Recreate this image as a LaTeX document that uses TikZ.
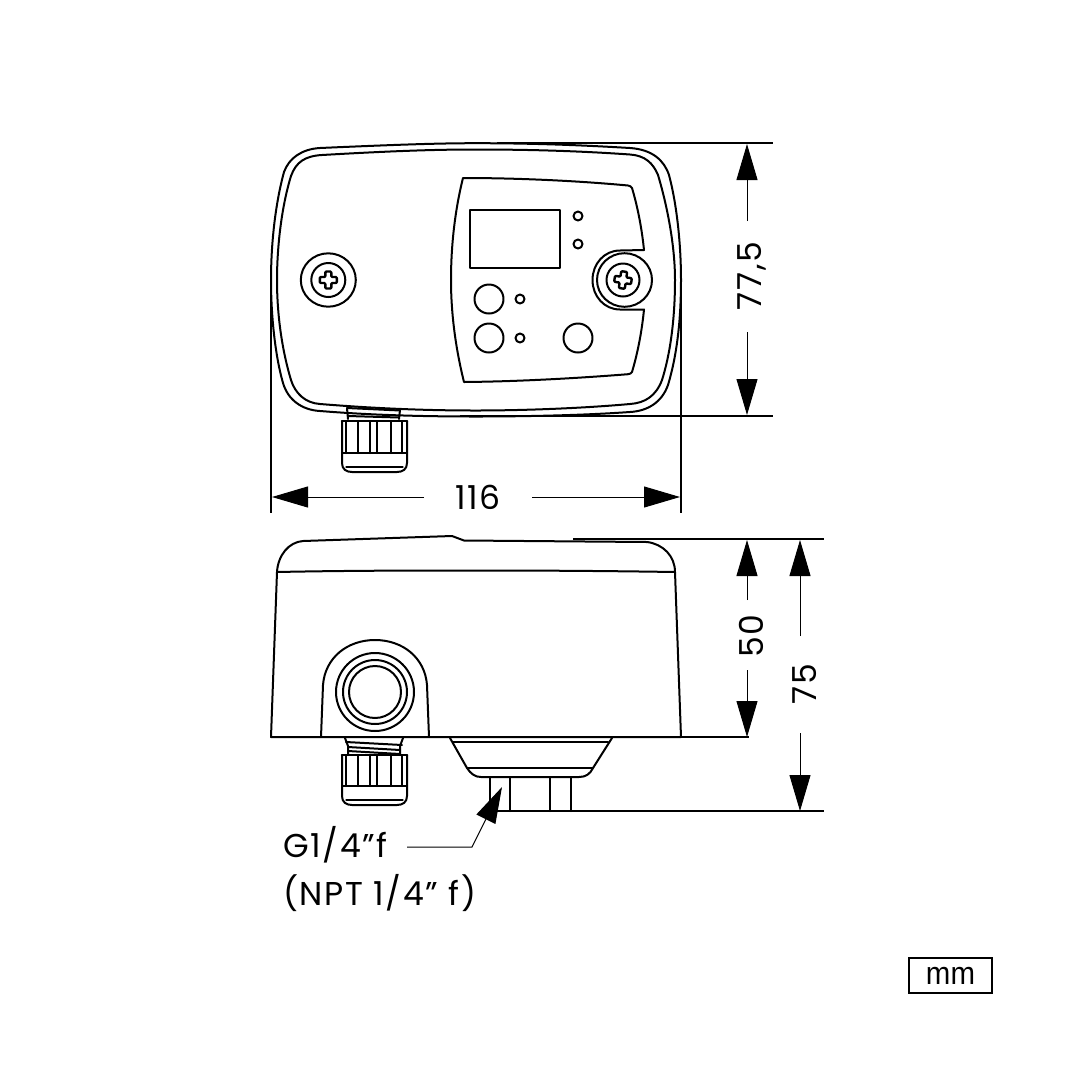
\documentclass[tikz,border=0pt]{standalone}
\usepackage{fontspec}
\setmainfont{Poppins}[LetterSpace=5]
\newfontfamily\unitfont{Liberation Sans}[FakeStretch=0.92]
\usetikzlibrary{arrows.meta}
\tikzset{
  body/.style={draw=black,line width=2pt,line join=round,line cap=round},
  ext/.style={draw=black,line width=2pt},
  dim/.style={draw=black,line width=1pt,-{Triangle[length=36pt,width=21pt,fill=black]}},
  lab/.style={font=\fontsize{33}{33}\selectfont,inner sep=0pt,text=black},
}
\newcommand{\crossmark}[3]{%
  \draw[body,line width=2.4pt,rounded corners=1pt,shift={(#1,#2)},rotate=#3]
   (-3,-8.5) -- (3,-8.5) -- (3,-3) -- (8.5,-3) -- (8.5,3) -- (3,3) -- (3,8.5)
   -- (-3,8.5) -- (-3,3) -- (-8.5,3) -- (-8.5,-3) -- (-3,-3) -- cycle;}
\newcommand{\glandbody}[2]{% top y, bottom y
  \draw[body] (342,#1) -- (342,#2-9) .. controls (342,#2-3) and (346,#2) .. (352,#2) -- (397,#2) .. controls (403,#2) and (407,#2-3) .. (407,#2-9) -- (407,#1);
  \draw[body,line width=2.6pt] (342,#1) -- (407,#1);
  \draw[body] (346,#1) -- (346,#2-19) (402,#1) -- (402,#2-19);
  \draw[body] (358,#1) -- (358,#2-19) (370,#1) -- (370,#2-19) (377,#1) -- (377,#2-19) (391,#1) -- (391,#2-19);
  \draw[body] (342,#2-19) -- (407,#2-19);
  \draw[body,line width=1.2pt] (346,#2-5) -- (403,#2-5);
}
\begin{document}
\begin{tikzpicture}[x=1pt,y=-1pt]
\useasboundingbox (0,0) rectangle (1080,1080);
% ---------- top view
\draw[body] (320,148) .. controls (400,144.5) and (440,143.2) .. (476,143.2) .. controls (530,143.2) and (580,145) .. (630,148)
  .. controls (652,149.5) and (664,160) .. (669,175) .. controls (677,205) and (681,245) .. (681,280)
  .. controls (681,320) and (677,355) .. (668,385) .. controls (662,402) and (648,411) .. (630,412)
  .. controls (580,415.5) and (520,416.5) .. (476,416.5) .. controls (420,416.5) and (370,415) .. (320,411)
  .. controls (302,410) and (288,400) .. (283,383) .. controls (275,355) and (271,315) .. (271,280)
  .. controls (271,245) and (275,205) .. (284,172) .. controls (289,158) and (302,149) .. (320,148) -- cycle;
\draw[body] (322,155) .. controls (400,150.5) and (440,149.5) .. (476,149.5) .. controls (530,149.5) and (580,151) .. (630,154.5)
  .. controls (645,155.5) and (653,163) .. (658,175) .. controls (667,205) and (675,245) .. (675,280)
  .. controls (675,320) and (670,355) .. (662,380) .. controls (656,396) and (645,403) .. (630,404)
  .. controls (580,408.5) and (520,410.5) .. (476,410.5) .. controls (420,410.5) and (370,408) .. (320,404)
  .. controls (305,403) and (295,393) .. (291,380) .. controls (282,350) and (277,315) .. (277,280)
  .. controls (277,245) and (282,205) .. (291,176) .. controls (296,162) and (305,156) .. (322,155) -- cycle;
% panel
\draw[body] (463,178) .. controls (520,178) and (580,181) .. (628,185.5) .. controls (630,185.7) and (631,186.5) .. (632,188)
  .. controls (638,208) and (642,230) .. (644,250) -- (620,250.5)
  .. controls (604,250.5) and (592.5,264) .. (592.5,280) .. controls (592.5,296) and (604,309.5) .. (620,309.5) -- (644,309.5)
  .. controls (642,330) and (638,352) .. (632,372) .. controls (631,373.5) and (630,374) .. (628,374.2)
  .. controls (580,378) and (520,381.5) .. (464,382)
  .. controls (456,350) and (451,315) .. (451,280) .. controls (451,245) and (455,210) .. (463,178) -- cycle;
\draw[body] (469.5,209.5) rectangle (560,268);
\draw[body] (578,216) circle[radius=4.5];
\draw[body] (578,244) circle[radius=4.5];
\draw[body] (520,299) circle[radius=4.5];
\draw[body] (520,338) circle[radius=4.5];
\draw[body] (489,299) circle[radius=14.5];
\draw[body] (489,338) circle[radius=14.5];
\draw[body] (578,338) circle[radius=14.5];
% screws
\draw[body] (328.3,280) ellipse[x radius=27.5,y radius=26.7];
\draw[body] (328.3,280) circle[radius=17];
\crossmark{328.3}{280}{0}
\draw[body] (624.5,280) ellipse[x radius=27.5,y radius=26.8];
\draw[body] (623,280) circle[radius=16.5];
\crossmark{623}{280}{-8}
% gland, top view
\draw[body] (347,408) -- (348,419) (400,410) -- (399,419);
\draw[body] (347,408) -- (400,410.5);
\draw[body] (348,416) -- (399,417.5);
\glandbody{421}{472}
% ---------- side view
\draw[body] (277,572) .. controls (278,555) and (289,542) .. (303,541) -- (452,536) -- (464,540.5) -- (647,542)
  .. controls (663,544) and (675,556) .. (675,572) -- (681,737) -- (271,737) -- cycle;
\draw[body] (277,572) .. controls (350,570.5) and (420,570.5) .. (476,570.5) .. controls (550,570.5) and (610,571) .. (675,572);
\draw[body] (321,737) -- (323,685) .. controls (325,658) and (347,640) .. (375,640) .. controls (403,640) and (425,658) .. (427,685) -- (429,737);
\draw[body] (375,692) circle[radius=39];
\draw[body] (375,692) circle[radius=32];
\draw[body] (375,692) circle[radius=26];
% gland, side view
\draw[body] (345,738) -- (348,746) -- (348,755) (403,738) -- (400,746) -- (400,755);
\draw[body] (346,742) -- (402,745) (348,747) -- (400,750) (348,751) -- (400,754);
\glandbody{755}{805}
% cup
\draw[body] (450,738) -- (467,768) .. controls (471,774) and (475,777) .. (481,777) -- (579,777) .. controls (586,777) and (590,774) .. (593,768) -- (612,738);
\draw[body] (467,768) -- (593,768);
\draw[body] (453,742) -- (608,742);
\draw[body] (490,777) -- (490,805) (510,777) -- (510,811) (550,777) -- (550,811) (571,777) -- (571,811);
% ---------- extension lines
\coordinate (e1a) at (497,143); \coordinate (e1b) at (773,143);
\coordinate (e2a) at (460,416); \coordinate (e2b) at (773,416);
\coordinate (e3a) at (573,539); \coordinate (e3b) at (824,539);
\coordinate (e4a) at (271,737); \coordinate (e4b) at (749,737);
\coordinate (e5a) at (497,811); \coordinate (e5b) at (824,811);
\coordinate (e6a) at (271,282); \coordinate (e6b) at (271,513);
\coordinate (e7a) at (681,282); \coordinate (e7b) at (681,513);
\foreach \n in {1,...,7} \draw[ext] (e\n a) -- (e\n b);
% ---------- dimensions
\node[lab] (d116) at (478,497) {116};
\coordinate (a1) at (424,497); \coordinate (a2) at (272,497);
\coordinate (a3) at (532,497); \coordinate (a4) at (680,497);
\draw[dim] (a1) -- (a2); \draw[dim] (a3) -- (a4);
\node[lab,rotate=90] (d775) at (752,276) {77,5};
\coordinate (b1) at (747,221); \coordinate (b2) at (747,144);
\coordinate (b3) at (747,332); \coordinate (b4) at (747,415);
\draw[dim] (b1) -- (b2); \draw[dim] (b3) -- (b4);
\node[lab,rotate=90] (d50) at (751,636) {50};
\coordinate (c1) at (747,600); \coordinate (c2) at (747,540);
\coordinate (c3) at (747,670); \coordinate (c4) at (747,737);
\draw[dim] (c1) -- (c2); \draw[dim] (c3) -- (c4);
\node[lab,rotate=90] (d75) at (805,684) {75};
\coordinate (f1) at (800,636); \coordinate (f2) at (800,540);
\coordinate (f3) at (800,733); \coordinate (f4) at (800,811);
\draw[dim] (f1) -- (f2); \draw[dim] (f3) -- (f4);
% ---------- thread note
\node[lab,anchor=base west] (g1) at (283,857) {G1/4"f};
\node[lab,anchor=base west] (g2) at (283,905) {(NPT 1/4" f)};
\coordinate (l1) at (407,847); \coordinate (l2) at (472,847); \coordinate (l3) at (502,787);
\draw[dim] (l1) -- (l2) -- (l3);
% ---------- unit box
\node[inner sep=0pt,draw=black,line width=1.2pt,minimum width=83pt,minimum height=35pt,font=\unitfont\fontsize{32}{32}\selectfont] (unit) at (950.5,975.5) {mm};
\end{tikzpicture}
\end{document}
